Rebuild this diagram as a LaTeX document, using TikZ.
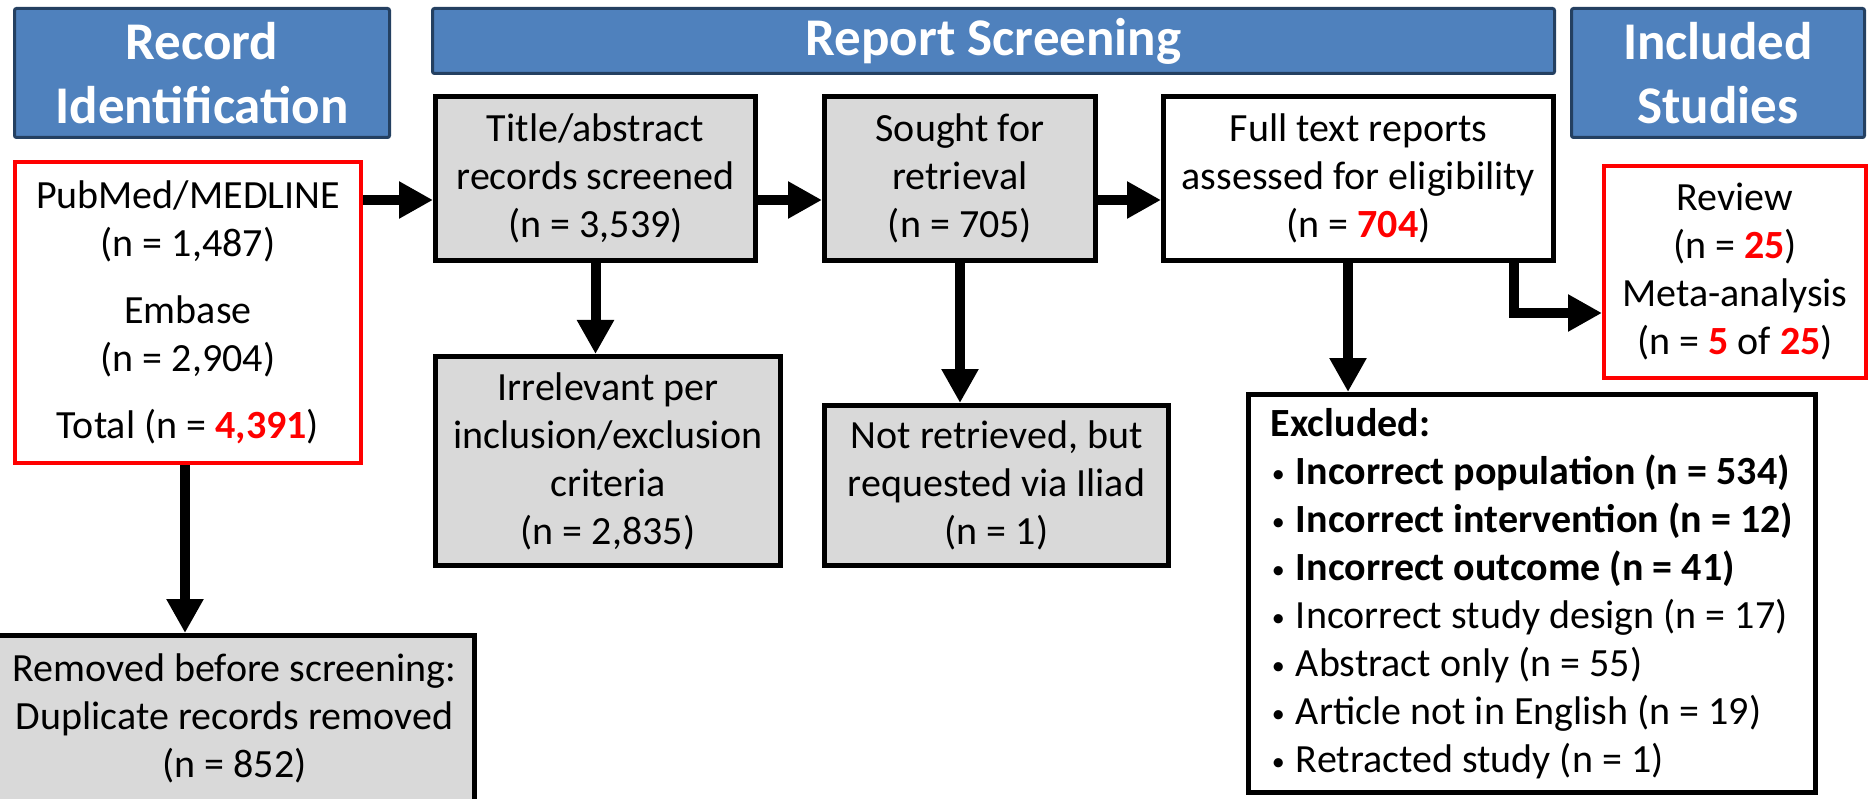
\documentclass[tikz,border=0pt]{standalone}
\usepackage{fontspec}
\setmainfont{Carlito}
\usetikzlibrary{arrows.meta,calc}
\definecolor{hdrfill}{RGB}{79,129,189}
\definecolor{hdrdraw}{RGB}{36,64,97}
\definecolor{boxgray}{RGB}{217,217,217}
\definecolor{hired}{RGB}{255,0,0}
\newcommand\hl[1]{\textbf{\color{hired}#1}}
\newcommand\bul{\makebox[25pt][l]{\hspace{1pt}\fontsize{26}{48}\selectfont\raisebox{2pt}{•}}}
\tikzset{
 hdr/.style={draw=hdrdraw, fill=hdrfill, line width=3pt, rounded corners=2pt, text=white,
   font=\fontsize{53}{64}\selectfont\bfseries, align=center, inner sep=0pt},
 graybox/.style={draw=black, fill=boxgray, line width=5pt, font=\fontsize{40}{48}\selectfont,
   align=center, inner sep=0pt},
 whitebox/.style={graybox, fill=white},
 redbox/.style={draw=hired, fill=white, line width=4pt, font=\fontsize{40}{48}\selectfont,
   align=center, inner sep=0pt},
 arr/.style={line width=10pt, -{Triangle[length=34pt,width=35pt]}},
}
\begin{document}
\begin{tikzpicture}[x=1pt,y=-1pt]
\useasboundingbox (0,0) rectangle (1870,799);
\clip (0,0) rectangle (1870,799);
% headers
\node[hdr, minimum width=375pt, minimum height=129pt] (h1) at (202,73) {Record\\Identification};
\node[hdr, minimum width=1122pt, minimum height=65pt] (h2) at (993.5,41) {Report Screening};
\node[hdr, minimum width=293pt, minimum height=129pt] (h3) at (1718,73) {Included\\Studies};
% boxes
\node[redbox, minimum width=346pt, minimum height=301pt] (src) at (188,312.5)
  {PubMed/MEDLINE\\(n = 1,487)\\[19pt]Embase\\(n = 2,904)\\[19pt]Total (n = \hl{4,391})};
\node[graybox, minimum width=320pt, minimum height=164pt] (title) at (595.5,178.5)
  {Title/abstract\\records screened\\(n = 3,539)};
\node[graybox, minimum width=271pt, minimum height=164pt] (sought) at (960,178.5)
  {Sought for\\retrieval\\(n = 705)};
\node[whitebox, minimum width=390pt, minimum height=164pt] (full) at (1358.5,178.5)
  {Full text reports\\assessed for eligibility\\(n = \hl{704})};
\node[graybox, minimum width=345pt, minimum height=209pt] (irr) at (608,461)
  {Irrelevant per\\inclusion/exclusion\\criteria\\(n = 2,835)};
\node[graybox, minimum width=344pt, minimum height=160pt] (notret) at (996.5,485.5)
  {Not retrieved, but\\requested via Iliad\\(n = 1)};
\node[graybox, minimum width=480pt, minimum height=166pt] (removed) at (234.5,718.5)
  {Removed before screening:\\Duplicate records removed\\(n = 852)};
\node[redbox, minimum width=262pt, minimum height=212pt] (review) at (1735,272)
  {Review\\(n = \hl{25})\\Meta-analysis\\(n = \hl{5} of \hl{25})};
\node[whitebox, align=left, minimum width=567pt, minimum height=398pt] (excl) at (1532,593.5)
  {\textbf{Excluded:}\\
   \bul\textbf{Incorrect population (n = 534)}\\
   \bul\textbf{Incorrect intervention (n = 12)}\\
   \bul\textbf{Incorrect outcome (n = 41)}\\
   \bul Incorrect study design (n = 17)\\
   \bul Abstract only (n = 55)\\
   \bul Article not in English (n = 19)\\
   \bul Retracted study (n = 1)};
% connectors
\coordinate (r1) at ([yshift=-21.5pt]title.west);
\draw[arr] (src.east |- r1) -- (r1);
\draw[arr] ([yshift=-21.5pt]title.east) -- ([yshift=-21.5pt]sought.west);
\draw[arr] ([yshift=-21.5pt]sought.east) -- ([yshift=-21.5pt]full.west);
\draw[arr] (title.south) -- (title.south |- irr.north);
\draw[arr] (sought.south) -- (sought.south |- notret.north);
\coordinate (s1) at ([xshift=-3pt]src.south);
\draw[arr] (s1) -- (s1 |- removed.north);
\coordinate (f1) at ([xshift=-10.5pt]full.south);
\draw[arr] (f1) -- (f1 |- excl.north);
\coordinate (f2) at ([xshift=155pt]full.south);
\coordinate (r2) at ([yshift=-41pt]review.west);
\draw[arr] (f2) |- (r2);
\end{tikzpicture}
\end{document}
